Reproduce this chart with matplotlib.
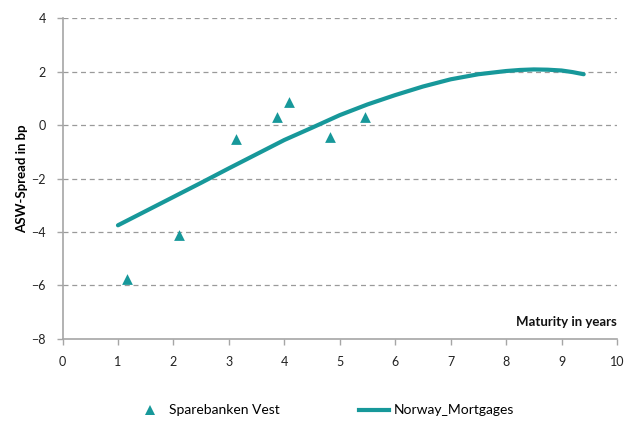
import matplotlib
matplotlib.use('Agg')
import matplotlib.pyplot as plt
from matplotlib.lines import Line2D

plt.rcParams['font.family'] = ['Lato', 'DejaVu Sans']

# Sparebanken Vest bonds (maturity in years, ASW spread in bp)
bond_maturity = [1.17, 2.10, 3.13, 3.86, 4.08, 4.83, 5.46]
bond_spread = [-5.75, -4.11, -0.54, 0.31, 0.85, -0.46, 0.29]

# Norway_Mortgages fitted curve
curve_maturity = [1.0, 1.5, 2.0, 2.5, 3.0, 3.5, 4.0, 4.5, 5.0, 5.5, 6.0,
                  6.5, 7.0, 7.5, 8.0, 8.25, 8.5, 8.75, 9.0, 9.2, 9.4]
curve_spread = [-3.75, -3.22, -2.69, -2.16, -1.62, -1.09, -0.56, -0.10,
                0.37, 0.77, 1.12, 1.44, 1.71, 1.90, 2.02, 2.06, 2.08, 2.07,
                2.04, 1.98, 1.90]

y_ticks = [-8, -6, -4, -2, 0, 2, 4]
x_ticks = list(range(0, 11))

teal = '#17989A'
axis_grey = '#A6A6A6'

fig = plt.figure(figsize=(6.38, 4.21), dpi=100)
ax = fig.add_axes([0.098, 0.195, 0.869, 0.762])

ax.plot(curve_maturity, curve_spread, color=teal, lw=3, solid_capstyle='round',
        solid_joinstyle='round', zorder=3)
ax.scatter(bond_maturity, bond_spread, marker='^', s=60, color=teal, zorder=4, linewidths=0)

ax.set_xlim(0, 10)
ax.set_ylim(-8, 4)
ax.set_xticks(x_ticks)
ax.set_yticks(y_ticks)
for y in y_ticks[1:]:
    ax.axhline(y, color='#9A9A9A', lw=0.9, ls=(0, (4, 3)), zorder=1)

for side in ['top', 'right']:
    ax.spines[side].set_visible(False)
for side in ['left', 'bottom']:
    ax.spines[side].set_color(axis_grey)
    ax.spines[side].set_linewidth(1.2)
ax.tick_params(axis='both', direction='out', length=4, width=1, color=axis_grey,
               labelsize=9, labelcolor='#222222', pad=8)

ax.set_ylabel('ASW-Spread in bp', fontsize=9.5, fontweight='bold', labelpad=2)
ax.text(10, -7.35, 'Maturity in years', ha='right', va='center', fontsize=9.5,
        fontweight='bold', color='#111111')

handles = [
    Line2D([], [], marker='^', color=teal, ls='none', markersize=7, markeredgewidth=0),
    Line2D([], [], color=teal, lw=3),
]
fig.legend(handles, ['Sparebanken Vest', 'Norway_Mortgages'], loc='center',
           bbox_to_anchor=(0.508, 0.025), ncol=2, frameon=False, fontsize=10,
           columnspacing=5.7, handlelength=2.2, handletextpad=0.3)

fig.savefig('out.png', dpi=100)
